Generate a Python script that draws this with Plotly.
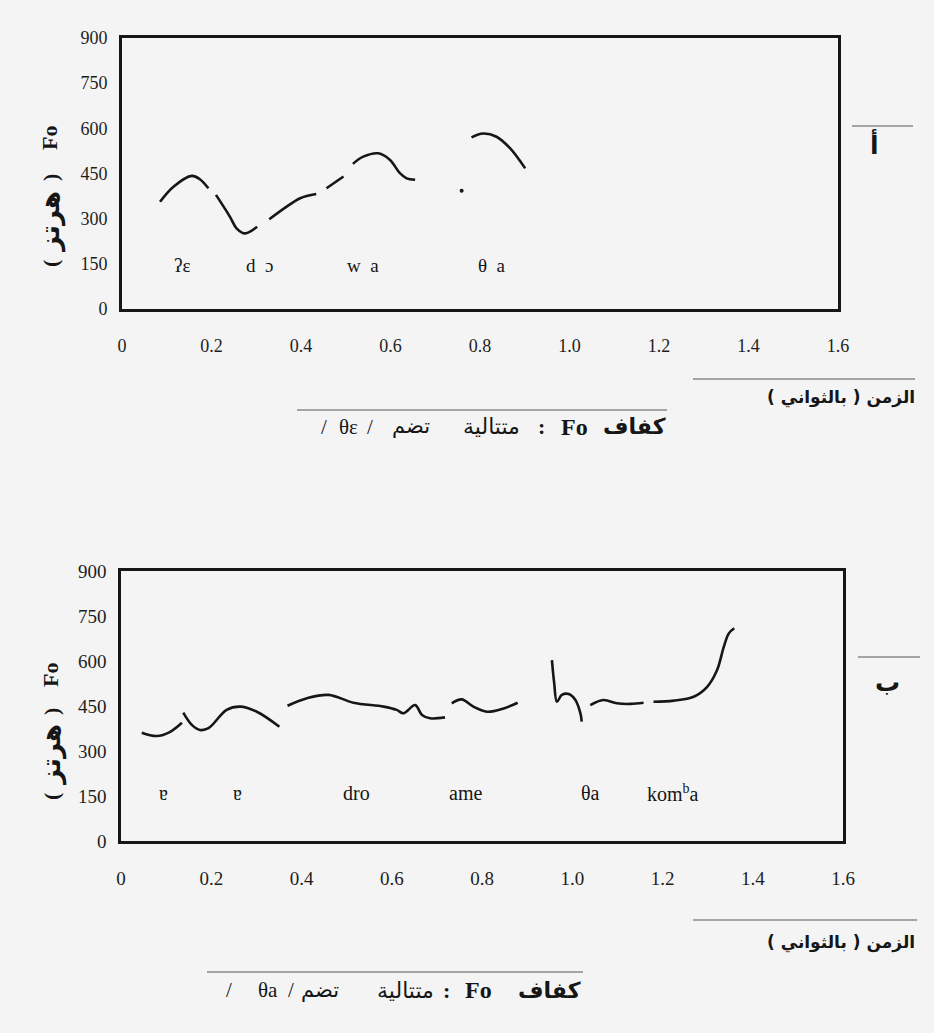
import plotly.graph_objects as go

W, H = 934, 1033

# ---------------- data ----------------
x_ticks = [0, 0.2, 0.4, 0.6, 0.8, 1.0, 1.2, 1.4, 1.6]
x_tick_text = ["0", "0.2", "0.4", "0.6", "0.8", "1.0", "1.2", "1.4", "1.6"]
y_ticks = [0, 150, 300, 450, 600, 750, 900]

# chart A  (/θɛ/)
a1_x = [0.085, 0.115, 0.156, 0.174, 0.193]
a1_y = [356, 406, 442, 431, 401]
a2_x = [0.210, 0.241, 0.256, 0.275, 0.302]
a2_y = [379, 307, 268, 251, 273]
a3_x = [0.329, 0.368, 0.398, 0.434]
a3_y = [298, 340, 368, 382]
a4_x = [0.457, 0.495]
a4_y = [401, 440]
a5_x = [0.516, 0.539, 0.573, 0.599, 0.621, 0.636, 0.655]
a5_y = [482, 506, 517, 495, 451, 434, 429]
a_dot_x = [0.759]
a_dot_y = [393]
a6_x = [0.781, 0.807, 0.837, 0.867, 0.901]
a6_y = [570, 583, 572, 534, 467]
a_label_text = ["ʔɛ", "d\u00a0\u00a0ɔ", "w\u00a0\u00a0a", "θ\u00a0\u00a0a"]
a_label_x = [0.134, 0.308, 0.539, 0.826]
a_label_y = [143, 143, 143, 143]

# chart B  (/θa/)
b1_x = [0.046, 0.079, 0.109, 0.135]
b1_y = [361, 350, 364, 394]
b2_x = [0.138, 0.157, 0.175, 0.194, 0.234, 0.264, 0.301, 0.351]
b2_y = [428, 387, 370, 376, 437, 448, 431, 381]
b3_x = [0.369, 0.412, 0.460, 0.515, 0.582, 0.611, 0.626, 0.652, 0.667, 0.685, 0.718]
b3_y = [451, 476, 487, 461, 448, 437, 426, 453, 420, 409, 412]
b4_x = [0.733, 0.755, 0.781, 0.811, 0.848, 0.879]
b4_y = [459, 472, 448, 431, 442, 461]
b5_x = [0.955, 0.960, 0.966, 0.977, 0.992, 1.007, 1.018, 1.021]
b5_y = [603, 526, 464, 487, 490, 470, 426, 398]
b6_x = [1.040, 1.069, 1.099, 1.129, 1.158]
b6_y = [453, 470, 459, 457, 461]
b7_x = [1.180, 1.225, 1.269, 1.299, 1.321, 1.336, 1.347, 1.359]
b7_y = [464, 468, 481, 514, 570, 648, 692, 709]
b_label_text = ["ɐ", "ɐ", "dro", "ame", "θa", "kom<sup>b</sup>a"]
b_label_x = [0.094, 0.258, 0.521, 0.763, 1.040, 1.224]
b_label_y = [161, 161, 161, 161, 161, 161]

# ---------------- helpers ----------------
def px(x):
    return x / W

def py(y):
    return 1 - y / H

BG = "#f4f4f4"
INK = "#161616"
SERIF = "Liberation Serif, DejaVu Serif, DejaVu Sans"
ARAB = "DejaVu Sans"

fig = go.Figure()

def curve(xs, ys, xa, ya):
    fig.add_trace(go.Scatter(x=xs, y=ys, mode="lines", xaxis=xa, yaxis=ya,
                             line=dict(color=INK, width=2.6, shape="spline", smoothing=1.0),
                             hoverinfo="skip", showlegend=False))

for xs, ys in [(a1_x, a1_y), (a2_x, a2_y), (a3_x, a3_y), (a4_x, a4_y), (a5_x, a5_y), (a6_x, a6_y)]:
    curve(xs, ys, "x", "y")
fig.add_trace(go.Scatter(x=a_dot_x, y=a_dot_y, mode="markers", xaxis="x", yaxis="y",
                         marker=dict(color=INK, size=4), hoverinfo="skip", showlegend=False))
for xs, ys in [(b1_x, b1_y), (b2_x, b2_y), (b3_x, b3_y), (b4_x, b4_y), (b5_x, b5_y), (b6_x, b6_y), (b7_x, b7_y)]:
    curve(xs, ys, "x2", "y2")

def xaxis(dom, size, standoff):
    return dict(domain=dom, range=[0, 1.6], tickvals=x_ticks, ticktext=x_tick_text,
                showline=True, mirror=True, linecolor=INK, linewidth=2.6,
                showgrid=False, zeroline=False, ticks="", ticklabelstandoff=standoff,
                tickfont=dict(family=SERIF, size=size, color="#1e1e1e"), fixedrange=True,
                automargin=False)

def yaxis(dom, size, anchor):
    return dict(domain=dom, range=[0, 900], tickvals=y_ticks, anchor=anchor,
                showline=True, mirror=True, linecolor=INK, linewidth=2.6,
                showgrid=False, zeroline=False, ticks="", ticklabelstandoff=8,
                tickfont=dict(family=SERIF, size=size, color="#1e1e1e"), fixedrange=True,
                automargin=False)

annotations = []

def note(x, y, text, size, family=SERIF, xanchor="center", angle=0):
    annotations.append(dict(x=px(x), y=py(y), xref="paper", yref="paper", text=text,
                            xanchor=xanchor, yanchor="middle", textangle=angle,
                            showarrow=False, font=dict(family=family, size=size, color=INK)))

# segment labels
for t, x, y in zip(a_label_text, a_label_x, a_label_y):
    annotations.append(dict(x=x, y=y, xref="x", yref="y", text=t, showarrow=False,
                            xanchor="center", yanchor="middle",
                            font=dict(family=SERIF, size=19, color=INK)))
for t, x, y in zip(b_label_text, b_label_x, b_label_y):
    annotations.append(dict(x=x, y=y, xref="x2", yref="y2", text=t, showarrow=False,
                            xanchor="center", yanchor="middle",
                            font=dict(family=SERIF, size=20, color=INK)))

# y titles, rotated, read bottom to top: ( هرتز ) Fo
for fo_y, close_y, ar_y, open_y in [(138, 178, 222, 264), (675, 712, 755, 797)]:
    note(50, fo_y, "<b>Fo</b>", 22, angle=-90)
    note(51, close_y, "<b>)</b>", 22, angle=-90)
    note(51, ar_y, "<b>هرتز</b>", 26, family=ARAB, angle=-90)
    note(51, open_y, "<b>(</b>", 22, angle=-90)

# panel letters
note(874, 145, "<b>أ</b>", 25, family=ARAB)
note(887, 682, "<b>ب</b>", 25, family=ARAB)

# x titles
for cy in (397, 942):
    note(917, cy, "<b>( بالثواني )\u200e الزمن</b>", 17, family=ARAB, xanchor="right")

# captions, built piece by piece (right-to-left reading)
for cy, k_r, fo_r, col_c, m_r, t_r, s1, th, s2, ph in [
        (427, 668, 590, 541, 522, 432, 324, 348, 370, "θɛ"),
        (990, 583, 494, 446, 436, 341, 229, 268, 291, "θa")]:
    note(k_r, cy, "<b>كفاف</b>", 22, family=ARAB, xanchor="right")
    note(fo_r, cy, "<b>Fo</b>", 24, xanchor="right")
    note(col_c, cy, "<b>:</b>", 22)
    note(m_r, cy, "متتالية", 22, family=ARAB, xanchor="right")
    note(t_r, cy, "تضم", 21, family=ARAB, xanchor="right")
    note(s1, cy, "/", 21)
    note(th, cy, ph, 21)
    note(s2, cy, "/", 21)

shapes = []
for x0, x1, yy in [(852, 913, 126), (858, 920, 657), (693, 915, 379), (693, 917, 920),
                   (297, 667, 410), (207, 583, 972)]:
    shapes.append(dict(type="line", xref="paper", yref="paper", x0=px(x0), x1=px(x1),
                       y0=py(yy), y1=py(yy), line=dict(color="#8a8a8a", width=1.3)))

fig.update_layout(
    width=W, height=H, margin=dict(l=0, r=0, t=0, b=0, autoexpand=False),
    paper_bgcolor=BG, plot_bgcolor=BG, showlegend=False,
    xaxis=xaxis([px(122), px(838)], 18, 19),
    yaxis=yaxis([py(309), py(38)], 18, "x"),
    xaxis2=dict(xaxis([px(121), px(843)], 19, 18), anchor="y2"),
    yaxis2=yaxis([py(841), py(571)], 19, "x2"),
    annotations=annotations, shapes=shapes,
)

fig.write_html("out.html",
               post_script="document.body.style.margin='0';document.body.style.overflow='hidden';")
